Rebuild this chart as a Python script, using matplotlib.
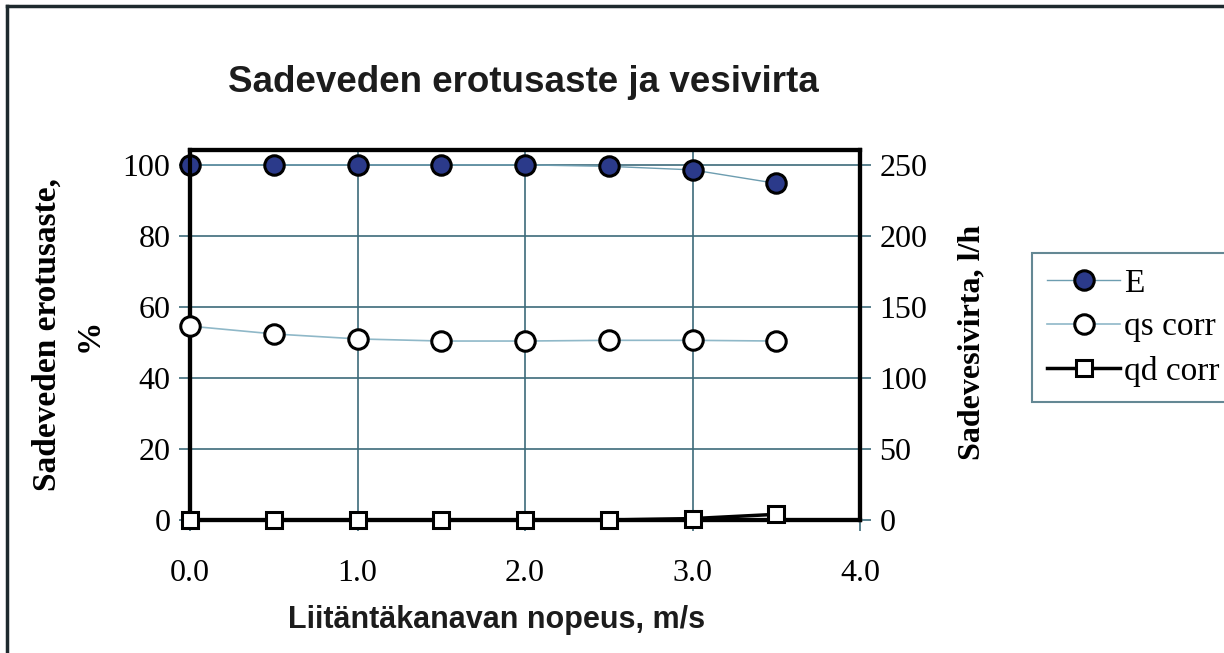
import matplotlib.pyplot as plt
from matplotlib.lines import Line2D

# data
nopeus = [0.0, 0.5, 1.0, 1.5, 2.0, 2.5, 3.0, 3.5]
E = [100, 100, 100, 100, 100, 99.6, 98.6, 94.8]
qs_corr = [136.5, 131, 127.5, 126, 126, 126.5, 126.5, 126]
qd_corr = [0, 0, 0, 0, 0, 0, 1, 4]

serif = ["Liberation Serif", "DejaVu Serif"]
sans = ["Liberation Sans", "DejaVu Sans"]
grid_c = "#3d6b7a"

fig = plt.figure(figsize=(12.24, 6.53), dpi=100)
ax = fig.add_axes([190 / 1224, 1 - 520 / 653, 670 / 1224, 370 / 653])
ax2 = ax.twinx()

ax.plot(nopeus, E, color="#6d9db0", lw=1, marker="o", ms=14, mfc="#2b3a8a",
        mec="black", mew=2.2, clip_on=False, zorder=5, label="E")
ax2.plot(nopeus, qs_corr, color="#8fb8c8", lw=1.2, marker="o", ms=14, mfc="white",
         mec="black", mew=2.2, clip_on=False, zorder=5, label="qs corr")
ax2.plot(nopeus, qd_corr, color="black", lw=2.5, marker="s", ms=12, mfc="white",
         mec="black", mew=2.2, clip_on=False, zorder=5, label="qd corr")

ax.set_xlim(0, 4)
ax.set_ylim(0, 104.2)
ax2.set_ylim(0, 260.5)
ax.set_xticks([0, 1, 2, 3, 4])
ax.set_xticklabels(["0.0", "1.0", "2.0", "3.0", "4.0"])
ax.set_yticks([0, 20, 40, 60, 80, 100])
ax2.set_yticks([0, 50, 100, 150, 200, 250])
ax.grid(True, color=grid_c, lw=1.2)
ax.set_axisbelow(True)

for a in (ax, ax2):
    for s in a.spines.values():
        s.set_linewidth(3)
        s.set_color("black")
    a.tick_params(direction="out", length=8, width=1.2, color=grid_c,
                  labelsize=23, pad=6)
    for t in a.get_xticklabels() + a.get_yticklabels():
        t.set_family(serif)
ax.tick_params(axis="x", pad=20)

ax.set_ylabel("Sadeveden erotusaste,\n%", family=serif, fontsize=24,
              fontweight="bold", linespacing=1.45)
ax.yaxis.set_label_coords(-0.127, 0.5)
ax2.set_ylabel("Sadevesivirta, l/h", family=serif, fontsize=23,
               fontweight="bold")
ax2.yaxis.set_label_coords(1.146, 0.48)

fig.text(523 / 1224, 1 - 83 / 653, "Sadeveden erotusaste ja vesivirta",
         family=sans, fontsize=26.5, fontweight="bold", ha="center", va="center",
         color="#1c1c1c")
fig.text(497 / 1224, 1 - 620 / 653, "Liitäntäkanavan nopeus, m/s",
         family=sans, fontsize=22, fontweight="bold", ha="center", va="center",
         color="#1c1c1c")

h1, l1 = ax.get_legend_handles_labels()
h2, l2 = ax2.get_legend_handles_labels()
leg = fig.legend(h1 + h2, l1 + l2, loc="upper left",
                 bbox_to_anchor=(1032 / 1224, 1 - 253 / 653),
                 prop={"family": serif, "size": 24}, frameon=True, fancybox=False,
                 handlelength=2.2, handletextpad=0.1, labelspacing=0.4,
                 borderpad=0.45, borderaxespad=0)
leg.get_frame().set_edgecolor(grid_c)
leg.get_frame().set_linewidth(1.5)

# outer border (left and top only)
fig.add_artist(Line2D([7 / 1224, 7 / 1224], [0, 1 - 6 / 653], color="#1e2a2e", lw=2.5))
fig.add_artist(Line2D([7 / 1224, 1], [1 - 6 / 653, 1 - 6 / 653], color="#1e2a2e", lw=2.5))

fig.savefig("out.png", dpi=100)
